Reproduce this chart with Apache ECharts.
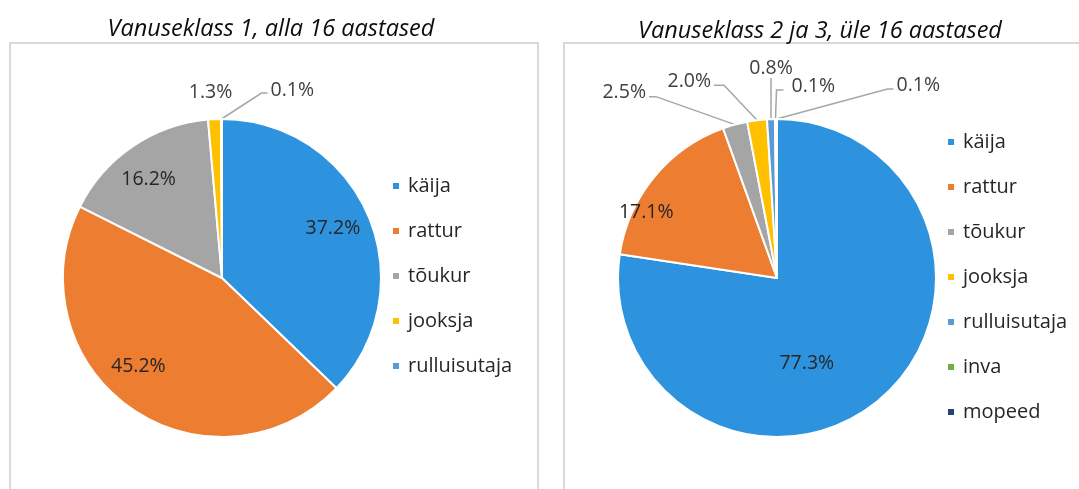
<!DOCTYPE html>
<html>
<head>
<meta charset="utf-8">
<script src="https://cdn.jsdelivr.net/npm/echarts@6/dist/echarts.min.js"></script>
<style>
  html, body { margin: 0; padding: 0; background: #fff; }
  #chart { width: 1079px; height: 489px; }
</style>
</head>
<body>
<div id="chart"></div>
<script>
// andmed (protsendid)
const leftNames = ['käija', 'rattur', 'tõukur', 'jooksja', 'rulluisutaja'];
const leftValues = [37.2, 45.2, 16.2, 1.3, 0.1];
const rightNames = ['käija', 'rattur', 'tõukur', 'jooksja', 'rulluisutaja', 'inva', 'mopeed'];
const rightValues = [77.3, 17.1, 2.5, 2.0, 0.8, 0.1, 0.1];

const leftTitle = 'Vanuseklass 1, alla 16 aastased';
const rightTitle = 'Vanuseklass 2 ja 3, üle 16 aastased';

const palette = ['#2E93DF', '#ED7D31', '#A5A5A5', '#FFC000', '#5B9BD5', '#70AD47', '#264478'];
const font = 'Open Sans';

// sildi nihked: suured lõigud sees (dx/dy), väikesed väljas juhtjoonega
const leftMoves = [
  { dx: 35, dy: -17 },
  { dx: -36, dy: 21 },
  { dx: -27, dy: -30 },
  { elbow: [-4, -27], run: 0, gap: 0, align: 'center', lift: 0, hideLine: true },
  { elbow: [40, -26], run: 6, gap: 3, align: 'left', lift: -3 }
];
const rightMoves = [
  { dx: -24, dy: 23 },
  { dx: -67, dy: -13 },
  { elbow: [-79, -28], run: -7, gap: -3, align: 'right', lift: -4 },
  { elbow: [-33, -35], run: -10, gap: -3, align: 'right', lift: -4 },
  { elbow: [0, -41], run: 0, gap: 0, align: 'center', lift: -10 },
  { elbow: [1, -29], run: 7, gap: 8, align: 'left', lift: -4 },
  { elbow: [111, -30], run: 6, gap: 3, align: 'left', lift: -4 }
];

function leader (moves) {
  return function (p) {
    const c = moves[p.dataIndex];
    if (!c) return {};
    if (c.dx != null) return { dx: c.dx, dy: c.dy };
    const p0 = p.labelLinePoints[0];
    const p1 = [p0[0] + c.elbow[0], p0[1] + c.elbow[1]];
    const p2 = [p1[0] + c.run, p1[1]];
    return {
      x: p2[0] + c.gap,
      y: p2[1] + c.lift,
      align: c.align,
      verticalAlign: 'middle',
      labelLinePoints: c.hideLine ? [p0, p0, p0] : [p0, p1, p2]
    };
  };
}

function pieData (names, values) {
  return names.map(function (n, i) {
    const item = { name: n, value: values[i] };
    if (values[i] > 10) {
      item.label = { position: 'inside', color: '#262626' };
      item.labelLine = { show: false };
    }
    return item;
  });
}

function pieSeries (names, values, center, moves) {
  return {
    type: 'pie',
    center: center,
    radius: 159,
    startAngle: 90,
    clockwise: true,
    avoidLabelOverlap: false,
    emphasis: { scale: false },
    itemStyle: { borderColor: '#fff', borderWidth: 2 },
    label: {
      show: true,
      position: 'outside',
      fontFamily: font,
      fontSize: 19.5,
      color: '#404040',
      formatter: function (p) { return p.value.toFixed(1) + '%' }
    },
    labelLine: { show: true, lineStyle: { color: '#A6A6A6', width: 1.5 } },
    labelLayout: leader(moves),
    data: pieData(names, values)
  };
}

const legendStyle = {
  orient: 'vertical',
  icon: 'rect',
  itemWidth: 8,
  itemHeight: 8,
  itemGap: 23,
  textStyle: { fontFamily: font, fontSize: 20, color: '#262626', lineHeight: 22, padding: [0, 0, 0, 3] }
};

const myChart = echarts.init(document.getElementById('chart'));
myChart.setOption({
  backgroundColor: '#fff',
  color: palette,
  animation: false,
  title: [
    { text: leftTitle, left: 266, top: 13, textAlign: 'center',
      textStyle: { fontFamily: font, fontStyle: 'italic', fontWeight: 'normal', fontSize: 23.5, color: '#0D0D0D' } },
    { text: rightTitle, left: 815, top: 15, textAlign: 'center',
      textStyle: { fontFamily: font, fontStyle: 'italic', fontWeight: 'normal', fontSize: 23.5, color: '#0D0D0D' } }
  ],
  legend: [
    Object.assign({ data: leftNames, left: 386, top: 170 }, legendStyle),
    Object.assign({ data: rightNames, left: 941, top: 126 }, legendStyle)
  ],
  graphic: [
    { type: 'rect', shape: { x: 10, y: 43, width: 528, height: 470 },
      style: { fill: null, stroke: '#D9D9D9', lineWidth: 2 }, silent: true },
    { type: 'rect', shape: { x: 564, y: 43, width: 530, height: 470 },
      style: { fill: null, stroke: '#D9D9D9', lineWidth: 2 }, silent: true }
  ],
  series: [
    pieSeries(leftNames, leftValues, [222, 278], leftMoves),
    pieSeries(rightNames, rightValues, [777, 278], rightMoves)
  ]
});
</script>
</body>
</html>
